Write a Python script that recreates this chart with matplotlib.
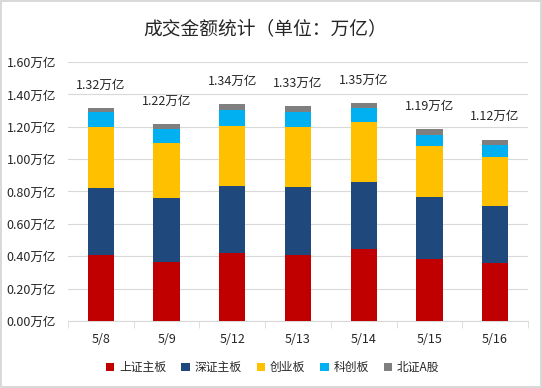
import matplotlib
matplotlib.use('Agg')
import matplotlib.pyplot as plt
import numpy as np

plt.rcParams['font.family'] = ['Noto Sans CJK SC', 'DejaVu Sans']

# trade dates and per-board turnover (万亿)
dates = ['5/8', '5/9', '5/12', '5/13', '5/14', '5/15', '5/16']
sh_main = [0.405, 0.366, 0.418, 0.409, 0.446, 0.384, 0.360]
sz_main = [0.414, 0.391, 0.413, 0.416, 0.410, 0.379, 0.353]
chinext = [0.378, 0.343, 0.374, 0.372, 0.374, 0.316, 0.298]
star = [0.095, 0.084, 0.097, 0.097, 0.087, 0.070, 0.076]
bse = [0.025, 0.033, 0.038, 0.034, 0.029, 0.036, 0.033]
totals = ['1.32', '1.22', '1.34', '1.33', '1.35', '1.19', '1.12']

series = [sh_main, sz_main, chinext, star, bse]
names = ['上证主板', '深证主板', '创业板', '科创板', '北证A股']
colors = ['#C00000', '#1F497D', '#FFC000', '#00B0F0', '#7F7F7F']

fig = plt.figure(figsize=(5.42, 3.88), dpi=100, edgecolor='#D9D9D9', linewidth=1.5)
ax = fig.add_axes([0.1255, 0.1727, 0.8485, 0.6675])

x = np.arange(len(dates))
bottom = np.zeros(len(dates))
for vals, name, c in zip(series, names, colors):
    ax.bar(x, vals, 0.4, bottom=bottom, color=c, label=name, zorder=3)
    bottom += np.array(vals)

for xi, top, t in zip(x, bottom, totals):
    ax.annotate(t + '万亿', (xi, top), xytext=(0, 16.5), textcoords='offset points',
                ha='center', va='center', fontsize=9, color='#262626')

ax.set_xlim(-0.5, len(dates) - 0.5)
ax.set_ylim(0, 1.6)
yt = np.arange(0, 1.61, 0.2)
ax.set_yticks(yt)
ax.set_yticklabels(['%.2f万亿' % v for v in yt], fontsize=9, color='#262626')
ax.set_xticks(x)
ax.set_xticklabels(dates, fontsize=9, color='#262626')
ax.set_xticks(np.arange(-0.5, len(dates)), minor=True)
ax.tick_params(axis='x', which='major', length=0, pad=9)
ax.tick_params(axis='x', which='minor', length=5, color='#D9D9D9')
ax.tick_params(axis='y', length=0, pad=8.5)
ax.grid(axis='y', color='#D9D9D9', linewidth=0.8, zorder=0)
for s in ['top', 'right', 'left']:
    ax.spines[s].set_visible(False)
ax.spines['bottom'].set_color('#D9D9D9')

fig.text(0.489, 0.925, '成交金额统计（单位：万亿）', ha='center', va='center',
         fontsize=13.5, color='#262626')

fig.legend(loc='center', bbox_to_anchor=(0.503, 0.052), ncol=5, frameon=False,
           fontsize=8.5, handlelength=0.7, handleheight=0.7, handletextpad=0.4,
           columnspacing=1.3, labelcolor='#262626')

plt.savefig('out.png', dpi=100, edgecolor=fig.get_edgecolor())
